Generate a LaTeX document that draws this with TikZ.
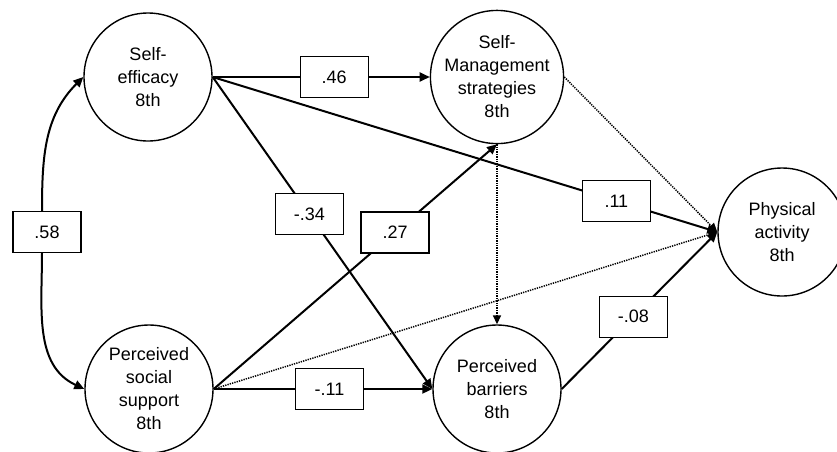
\documentclass[tikz,border=0pt]{standalone}
\usepackage{fontspec}
\setmainfont{Liberation Sans}
\usetikzlibrary{arrows.meta}
\begin{document}
\begin{tikzpicture}[x=1pt,y=-1pt,
  every node/.style={font=\fontsize{18}{23}\selectfont},
  var/.style={circle,draw,line width=1.4pt,minimum size=128pt,inner sep=0pt,align=center},
  lbl/.style={rectangle,draw,fill=white,line width=1.3pt,minimum width=68pt,minimum height=41pt,inner sep=0pt},
  path/.style={line width=2pt,-{Triangle[length=10pt,width=9pt]}},
  dotpath/.style={line width=1.5pt,dash pattern=on 1.3pt off 1.1pt,-{Triangle[length=9pt,width=8pt]}}
]
\useasboundingbox (0,0) rectangle (837,451);
\node[var] (SE) at (148,77) {Self-\\efficacy\\8th};
\node[var] (SM) at (497,77) {Self-\\Management\\strategies\\8th};
\node[var] (PA) at (782,232) {Physical\\activity\\8th};
\node[var] (PSS) at (149,389) {Perceived\\social\\support\\8th};
\node[var] (PB) at (497,389) {Perceived\\barriers\\8th};
\node[lbl] (r58) at (47,232) {.58};

\draw[path] ([xshift=-5pt]r58.north) to[out=90,in=225] (SE.west);
\draw[path] ([xshift=-5pt]r58.south) to[out=-90,in=155] (PSS.west);

\draw[dotpath] (SM.east) -- (PA.west);
\draw[dotpath] (SM.south) -- (PB.north);
\draw[dotpath] (PSS.east) -- (PA.west);

\draw[path] (SE.east) -- node[lbl,pos=0.56] (r46) {.46} (SM.west);
\draw[path] (SE.east) -- node[lbl,pos=0.80] (r11) {.11} (PA.west);
\draw[path] (SE.east) -- node[lbl,pos=0.44] (r34) {-.34} (PB.west);
\draw[path] (PSS.east) -- node[lbl,pos=0.64] (r27) {.27} (SM.south);
\draw[path] (PSS.east) -- node[lbl,pos=0.53] (rm11) {-.11} (PB.west);
\draw[path] (PB.east) -- node[lbl,pos=0.46] (r08) {-.08} (PA.west);
\end{tikzpicture}
\end{document}
